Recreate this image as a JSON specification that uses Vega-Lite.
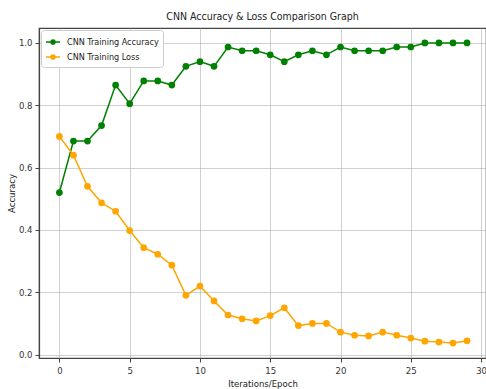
{
  "$schema": "https://vega.github.io/schema/vega-lite/v6.json",
  "width": 447,
  "height": 330,
  "autosize": "none",
  "padding": {"left": 39, "top": 28, "right": 0, "bottom": 31},
  "background": "white",
  "title": {
    "text": "CNN Accuracy & Loss Comparison Graph",
    "font": "DejaVu Sans Condensed",
    "fontSize": 10.5,
    "fontWeight": "normal",
    "color": "#222",
    "offset": 6
  },
  "config": {
    "font": "DejaVu Sans Condensed",
    "view": {"stroke": "#444", "strokeWidth": 1.2},
    "axis": {
      "labelFont": "DejaVu Sans Condensed",
      "labelFontSize": 9.5,
      "labelColor": "#333",
      "titleFont": "DejaVu Sans Condensed",
      "titleFontSize": 9.5,
      "titleFontWeight": "normal",
      "titleColor": "#222",
      "gridColor": "#b0b0b0",
      "gridOpacity": 0.6,
      "gridWidth": 1,
      "domainColor": "#444",
      "domainWidth": 1.2,
      "tickColor": "#444",
      "tickSize": 4
    }
  },
  "data": {
    "values": [
      {"epoch": 0, "metric": "CNN Training Accuracy", "value": 0.52},
      {"epoch": 1, "metric": "CNN Training Accuracy", "value": 0.685},
      {"epoch": 2, "metric": "CNN Training Accuracy", "value": 0.685},
      {"epoch": 3, "metric": "CNN Training Accuracy", "value": 0.735},
      {"epoch": 4, "metric": "CNN Training Accuracy", "value": 0.865},
      {"epoch": 5, "metric": "CNN Training Accuracy", "value": 0.805},
      {"epoch": 6, "metric": "CNN Training Accuracy", "value": 0.878},
      {"epoch": 7, "metric": "CNN Training Accuracy", "value": 0.878},
      {"epoch": 8, "metric": "CNN Training Accuracy", "value": 0.865},
      {"epoch": 9, "metric": "CNN Training Accuracy", "value": 0.925},
      {"epoch": 10, "metric": "CNN Training Accuracy", "value": 0.94},
      {"epoch": 11, "metric": "CNN Training Accuracy", "value": 0.925},
      {"epoch": 12, "metric": "CNN Training Accuracy", "value": 0.987},
      {"epoch": 13, "metric": "CNN Training Accuracy", "value": 0.975},
      {"epoch": 14, "metric": "CNN Training Accuracy", "value": 0.975},
      {"epoch": 15, "metric": "CNN Training Accuracy", "value": 0.962},
      {"epoch": 16, "metric": "CNN Training Accuracy", "value": 0.94},
      {"epoch": 17, "metric": "CNN Training Accuracy", "value": 0.962},
      {"epoch": 18, "metric": "CNN Training Accuracy", "value": 0.975},
      {"epoch": 19, "metric": "CNN Training Accuracy", "value": 0.962},
      {"epoch": 20, "metric": "CNN Training Accuracy", "value": 0.987},
      {"epoch": 21, "metric": "CNN Training Accuracy", "value": 0.975},
      {"epoch": 22, "metric": "CNN Training Accuracy", "value": 0.975},
      {"epoch": 23, "metric": "CNN Training Accuracy", "value": 0.975},
      {"epoch": 24, "metric": "CNN Training Accuracy", "value": 0.987},
      {"epoch": 25, "metric": "CNN Training Accuracy", "value": 0.987},
      {"epoch": 26, "metric": "CNN Training Accuracy", "value": 1.0},
      {"epoch": 27, "metric": "CNN Training Accuracy", "value": 1.0},
      {"epoch": 28, "metric": "CNN Training Accuracy", "value": 1.0},
      {"epoch": 29, "metric": "CNN Training Accuracy", "value": 1.0},
      {"epoch": 0, "metric": "CNN Training Loss", "value": 0.70},
      {"epoch": 1, "metric": "CNN Training Loss", "value": 0.64},
      {"epoch": 2, "metric": "CNN Training Loss", "value": 0.54},
      {"epoch": 3, "metric": "CNN Training Loss", "value": 0.487},
      {"epoch": 4, "metric": "CNN Training Loss", "value": 0.46},
      {"epoch": 5, "metric": "CNN Training Loss", "value": 0.398},
      {"epoch": 6, "metric": "CNN Training Loss", "value": 0.343},
      {"epoch": 7, "metric": "CNN Training Loss", "value": 0.322},
      {"epoch": 8, "metric": "CNN Training Loss", "value": 0.287},
      {"epoch": 9, "metric": "CNN Training Loss", "value": 0.19},
      {"epoch": 10, "metric": "CNN Training Loss", "value": 0.22},
      {"epoch": 11, "metric": "CNN Training Loss", "value": 0.172},
      {"epoch": 12, "metric": "CNN Training Loss", "value": 0.127},
      {"epoch": 13, "metric": "CNN Training Loss", "value": 0.115},
      {"epoch": 14, "metric": "CNN Training Loss", "value": 0.108},
      {"epoch": 15, "metric": "CNN Training Loss", "value": 0.125},
      {"epoch": 16, "metric": "CNN Training Loss", "value": 0.15},
      {"epoch": 17, "metric": "CNN Training Loss", "value": 0.093},
      {"epoch": 18, "metric": "CNN Training Loss", "value": 0.10},
      {"epoch": 19, "metric": "CNN Training Loss", "value": 0.10},
      {"epoch": 20, "metric": "CNN Training Loss", "value": 0.072},
      {"epoch": 21, "metric": "CNN Training Loss", "value": 0.062},
      {"epoch": 22, "metric": "CNN Training Loss", "value": 0.06},
      {"epoch": 23, "metric": "CNN Training Loss", "value": 0.072},
      {"epoch": 24, "metric": "CNN Training Loss", "value": 0.062},
      {"epoch": 25, "metric": "CNN Training Loss", "value": 0.053},
      {"epoch": 26, "metric": "CNN Training Loss", "value": 0.043},
      {"epoch": 27, "metric": "CNN Training Loss", "value": 0.04},
      {"epoch": 28, "metric": "CNN Training Loss", "value": 0.037},
      {"epoch": 29, "metric": "CNN Training Loss", "value": 0.044}
    ]
  },
  "encoding": {
    "x": {
      "field": "epoch",
      "type": "quantitative",
      "title": "Iterations/Epoch",
      "scale": {"domain": [-1.45, 30.35], "nice": false, "zero": false},
      "axis": {"values": [0, 5, 10, 15, 20, 25, 30], "format": "d", "titlePadding": 4, "labelPadding": 3}
    },
    "y": {
      "field": "value",
      "type": "quantitative",
      "title": "Accuracy",
      "scale": {"domain": [-0.011, 1.048], "nice": false, "zero": false},
      "axis": {"values": [0, 0.2, 0.4, 0.6, 0.8, 1.0], "format": ".1f", "titlePadding": 2, "labelPadding": 3}
    },
    "color": {
      "field": "metric",
      "type": "nominal",
      "scale": {"domain": ["CNN Training Accuracy", "CNN Training Loss"], "range": ["#008000", "#ffa500"]},
      "legend": {
        "title": null,
        "orient": "top-left",
        "offset": 2,
        "padding": 4,
        "fillColor": "white",
        "strokeColor": "#cccccc",
        "cornerRadius": 3,
        "labelFont": "DejaVu Sans Condensed",
        "labelFontSize": 9,
        "labelColor": "#222",
        "labelOffset": 6,
        "symbolType": "M-1,0L1,0M-0.3,0A0.3,0.3 0 1,0 0.3,0A0.3,0.3 0 1,0 -0.3,0Z",
        "symbolSize": 200,
        "symbolStrokeWidth": 1.5,
        "rowPadding": 1
      }
    }
  },
  "layer": [
    {"mark": {"type": "line", "strokeWidth": 1.5}},
    {"mark": {"type": "point", "filled": true, "size": 45, "opacity": 1}}
  ]
}
